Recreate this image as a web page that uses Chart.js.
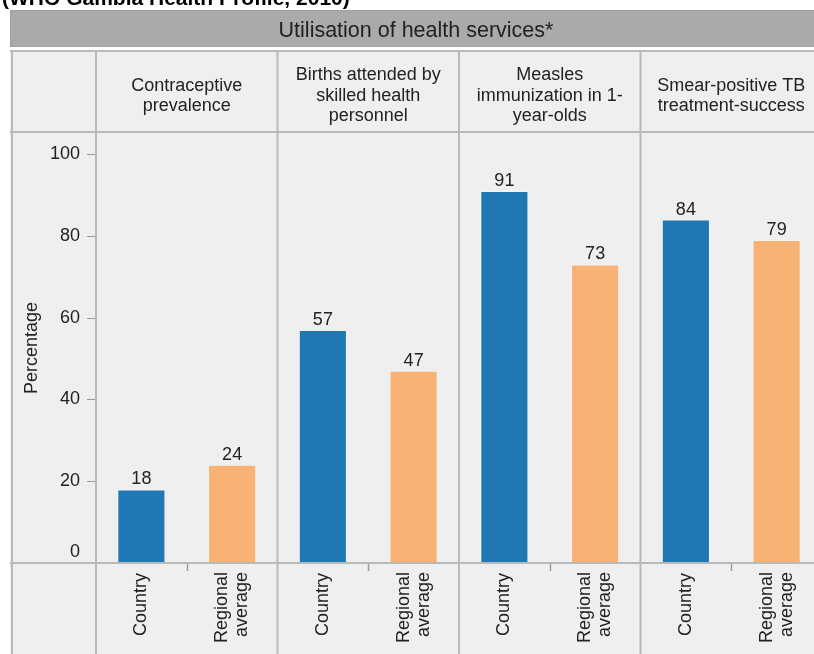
<!DOCTYPE html>
<html>
<head>
<meta charset="utf-8">
<title>Utilisation of health services</title>
<script src="https://cdn.jsdelivr.net/npm/chart.js@4.4.1/dist/chart.umd.min.js"></script>
<style>
  html, body { margin:0; padding:0; background:#fff; overflow:hidden; }
  #wrap { position:relative; width:814px; height:654px; overflow:hidden; }
  #chart { position:absolute; left:0; top:0; width:830px; height:654px; }
</style>
</head>
<body>
<div id="wrap"><canvas id="chart" width="830" height="654"></canvas></div>
<script>
// panel headings, one per indicator
const panels = [
  ["Contraceptive", "prevalence"],
  ["Births attended by", "skilled health", "personnel"],
  ["Measles", "immunization in 1-", "year-olds"],
  ["Smear-positive TB", "treatment-success"]
];
const seriesNames = ["Country", "Regional average"];
const countryValues  = [18, 57, 91, 84];
const regionalValues = [24, 47, 73, 79];
const yTicks = [0, 20, 40, 60, 80, 100];

const FONT = "'Liberation Sans', Arial, sans-serif";
const INK = "#222";
const LINE = "#b9b9b9";
const PANEL_BG = "#efefef";
const BLUE = "#1f77b4";
const ORANGE = "#f7b274";

// frame geometry (table around the plot)
const FRAME_LEFT = 10;
const BAND_TOP = 10, BAND_BOTTOM = 47;
const HEADER_TOP = 50;

function txt(ctx, s, x, y, opts={}){
  ctx.save();
  ctx.font = opts.font || ("18px " + FONT);
  ctx.fillStyle = opts.color || INK;
  ctx.textAlign = opts.align || "center";
  ctx.textBaseline = opts.baseline || "middle";
  ctx.translate(x, y);
  if(opts.rotate) ctx.rotate(opts.rotate);
  ctx.fillText(s, 0, 0);
  ctx.restore();
}

function vline(ctx, x, y0, y1){
  ctx.beginPath(); ctx.moveTo(x, y0); ctx.lineTo(x, y1); ctx.stroke();
}
function hline(ctx, y, x0, x1){
  ctx.beginPath(); ctx.moveTo(x0, y); ctx.lineTo(x1, y); ctx.stroke();
}

const tablePlugin = {
  id: "tableFrame",
  beforeDraw(chart){
    const {ctx, chartArea:a, scales:{x, y}} = chart;
    const W = chart.width, H = chart.height;
    const catW = (a.right - a.left) / panels.length;

    ctx.save();
    ctx.fillStyle = "#fff";
    ctx.fillRect(0, 0, W, H);

    // source line, mostly above the top edge
    txt(ctx, "(WHO Gambia Health Profile, 2010)", 2, 5,
        {font: "bold 21px " + FONT, align: "left", baseline: "alphabetic", color: "#000"});

    // title band
    ctx.fillStyle = "#aaaaaa";
    ctx.fillRect(FRAME_LEFT, BAND_TOP, W - FRAME_LEFT, BAND_BOTTOM - BAND_TOP);
    ctx.strokeStyle = "#9e9e9e"; ctx.lineWidth = 1;
    ctx.strokeRect(FRAME_LEFT + 0.5, BAND_TOP + 0.5, W, BAND_BOTTOM - BAND_TOP - 1);
    txt(ctx, "Utilisation of health services*", (FRAME_LEFT + a.right) / 2, 31,
        {font: "21.5px " + FONT});

    // body background
    ctx.fillStyle = PANEL_BG;
    ctx.fillRect(FRAME_LEFT, HEADER_TOP, W - FRAME_LEFT, H - HEADER_TOP);

    // header texts
    panels.forEach((lines, i) => {
      const cx = x.getPixelForValue(i);
      const mid = (HEADER_TOP + a.top) / 2 + 5;
      const lh = 20.5;
      lines.forEach((s, j) => {
        txt(ctx, s, cx, mid + (j - (lines.length - 1) / 2) * lh);
      });
    });

    // y axis title + tick labels
    txt(ctx, "Percentage", 32, 348, {rotate: -Math.PI / 2});
    ctx.strokeStyle = "#9a9a9a"; ctx.lineWidth = 1;
    yTicks.forEach(v => {
      const py = y.getPixelForValue(v);
      txt(ctx, String(v), 80, Math.min(py, a.bottom - 11), {align: "right"});
      if(v > 0) hline(ctx, Math.round(py) + 0.5, 87, a.left);
    });

    // rotated series labels under each bar
    panels.forEach((_, i) => {
      const cx = x.getPixelForValue(i);
      const xc = cx - catW / 4, xr = cx + catW / 4;
      txt(ctx, seriesNames[0], xc, a.bottom + 10, {align: "right", rotate: -Math.PI / 2});
      txt(ctx, "Regional", xr - 10, a.bottom + 9, {align: "right", rotate: -Math.PI / 2});
      txt(ctx, "average", xr + 10, a.bottom + 9, {align: "right", rotate: -Math.PI / 2});
      // divider tick between the two bars
      ctx.strokeStyle = "#9a9a9a"; ctx.lineWidth = 1.5;
      vline(ctx, Math.round(cx) + 0.5, a.bottom, a.bottom + 8);
    });
    ctx.restore();
  },
  afterDatasetsDraw(chart){
    const {ctx, chartArea:a, scales:{x}} = chart;
    ctx.save();
    // value labels above bars
    chart.data.datasets.forEach((ds, di) => {
      chart.getDatasetMeta(di).data.forEach((bar, i) => {
        txt(ctx, String(ds.data[i]), bar.x, bar.y - 5, {baseline: "alphabetic"});
      });
    });

    // grid of the table
    const catW = (a.right - a.left) / panels.length;
    ctx.strokeStyle = LINE; ctx.lineWidth = 2;
    hline(ctx, HEADER_TOP + 1, FRAME_LEFT, chart.width);
    hline(ctx, a.top, FRAME_LEFT, chart.width);
    hline(ctx, a.bottom, FRAME_LEFT, chart.width);
    vline(ctx, FRAME_LEFT + 2, HEADER_TOP, chart.height);
    for(let i = 0; i <= panels.length; i++){
      const px = x.getPixelForValue(0) - catW / 2 + i * catW;
      vline(ctx, px, HEADER_TOP, chart.height);
    }
    ctx.restore();
  }
};

new Chart(document.getElementById("chart"), {
  type: "bar",
  data: {
    labels: panels,
    datasets: [
      { label: seriesNames[0], data: countryValues, backgroundColor: BLUE,
        borderColor: "rgba(255,255,255,0.35)", borderWidth: 1 },
      { label: seriesNames[1], data: regionalValues, backgroundColor: ORANGE,
        borderColor: "rgba(255,255,255,0.35)", borderWidth: 1 }
    ]
  },
  options: {
    responsive: false,
    animation: false,
    devicePixelRatio: 1,
    categoryPercentage: 1,
    barPercentage: 0.53,
    layout: { padding: { left: 96, right: 8, top: 132, bottom: 91 } },
    plugins: { legend: { display: false }, tooltip: { enabled: false } },
    scales: {
      x: { display: false },
      y: { display: false, min: 0, max: 105.4 }
    }
  },
  plugins: [tablePlugin]
});
</script>
</body>
</html>
